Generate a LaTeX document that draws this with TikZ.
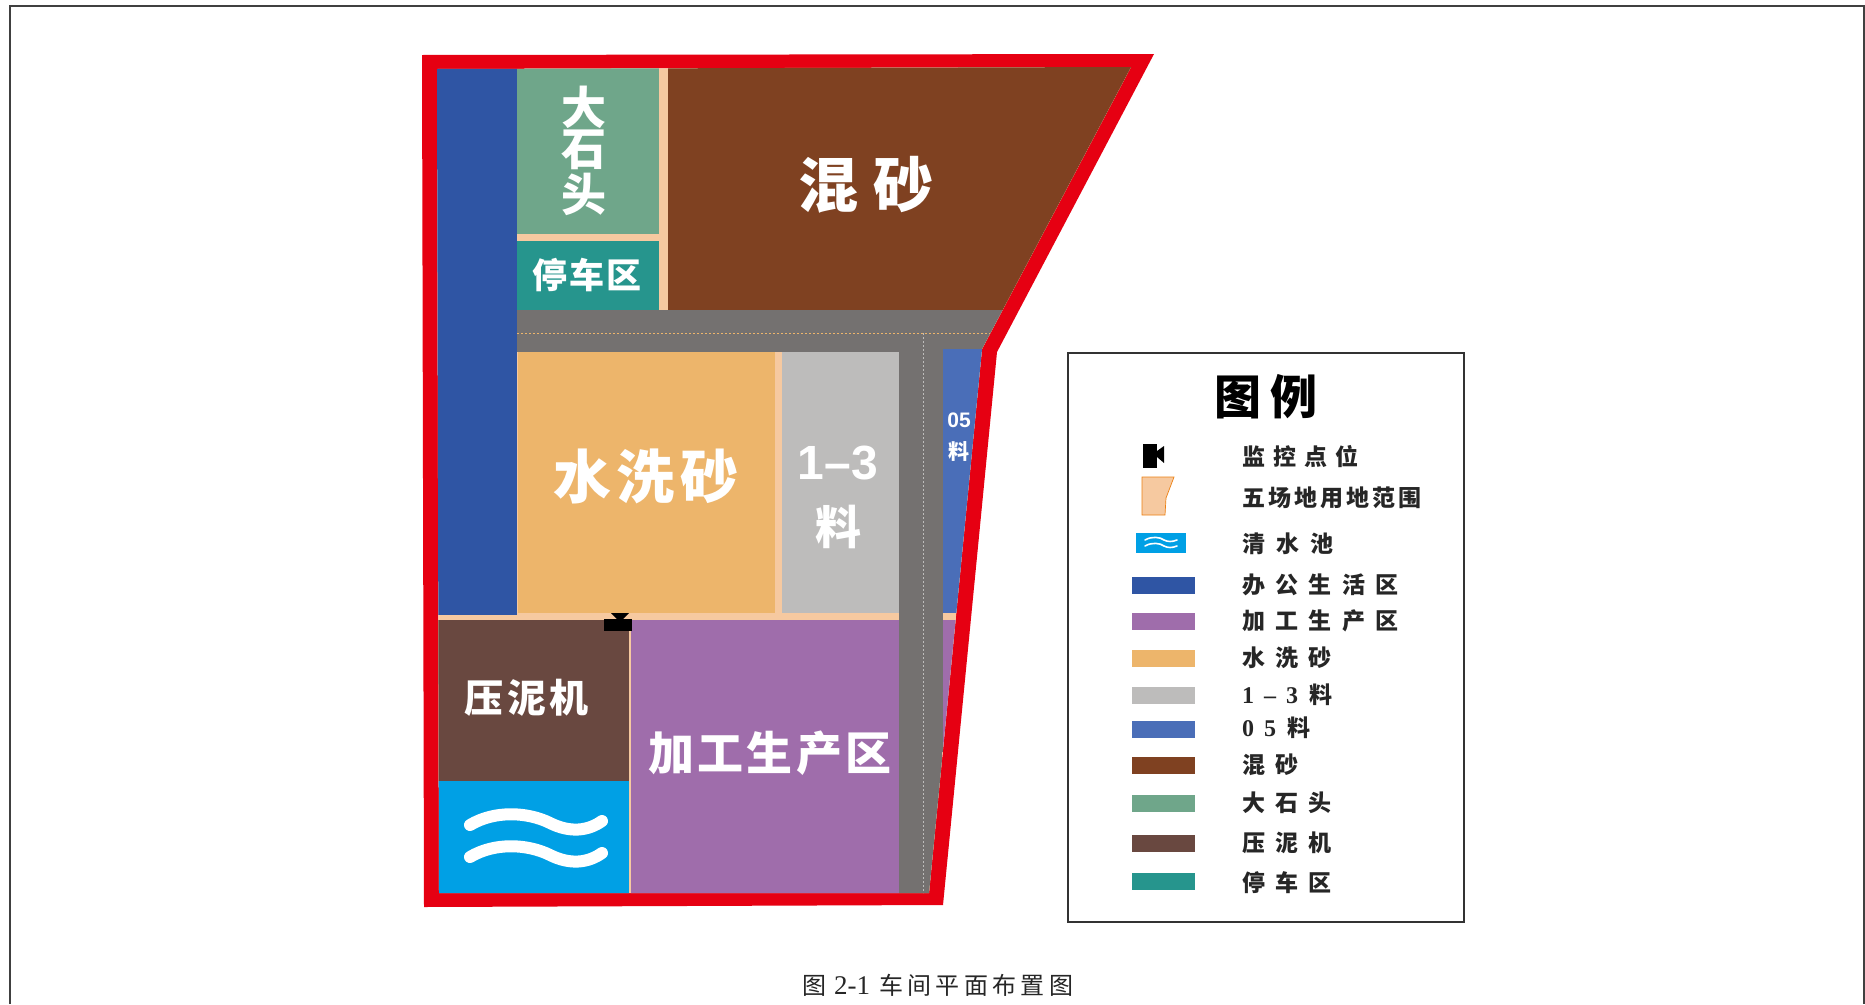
\documentclass[tikz,border=0pt]{standalone}
\usepackage{fontspec}
\setmainfont{Liberation Serif}
\newfontfamily\cjk{Noto Sans CJK SC}
\newfontfamily\latb{Liberation Sans}
\definecolor{cred}{HTML}{E60012}
\definecolor{cblue}{HTML}{2F55A4}
\definecolor{cstone}{HTML}{6FA68A}
\definecolor{cpeach}{HTML}{F6C9A0}
\definecolor{cbrown}{HTML}{7F4121}
\definecolor{cteal}{HTML}{26958D}
\definecolor{cgray}{HTML}{747170}
\definecolor{csand}{HTML}{EDB56B}
\definecolor{clight}{HTML}{BDBCBB}
\definecolor{cfive}{HTML}{4A6EB8}
\definecolor{cpurple}{HTML}{9F6DAB}
\definecolor{cmud}{HTML}{694840}
\definecolor{cwater}{HTML}{00A0E5}
\newcommand{\fs}[1]{\fontsize{#1}{#1}\selectfont}
\newcommand{\ls}[1]{\addfontfeature{LetterSpace=#1}}
\tikzset{
  lab/.style={text=white,inner sep=0pt,font=\cjk\bfseries},
  legt/.style={text=black!85,inner sep=0pt,anchor=west,font=\cjk\bfseries\fs{23}},
  swatch/.style={minimum width=63pt,minimum height=17pt,inner sep=0pt,draw=none},
  dashline/.style={draw=#1,line width=0.8pt,dash pattern=on 2pt off 2pt},
  wave/.style={draw=white,line cap=round}
}
\begin{document}
\begin{tikzpicture}[x=1pt,y=-1pt]
\useasboundingbox (0,0) rectangle (1865,1004);
\fill[white] (0,0) rectangle (1865,1004);
% page frame
\draw[black!75,line width=1.6pt] (10,1004) -- (10,6) -- (1864,6) -- (1864,1004);
% red site boundary
\fill[cred,even odd rule] (422,55) -- (1154,54) -- (997,352) -- (943,905) -- (424,907) -- cycle
  (437,69) -- (1131,67) -- (982,349) -- (929,893) -- (439,893) -- cycle;
% inside
\begin{scope}
\clip (437,69) -- (1131,67) -- (982,349) -- (929,893) -- (439,893) -- cycle;
\fill[cpeach] (430,60) rectangle (1140,900);
\fill[cblue] (430,60) rectangle (517,615);
\fill[cstone] (517,60) rectangle (659,234);
\fill[cteal] (517,241) rectangle (659,310);
\fill[cbrown] (668,60) rectangle (1140,310);
\fill[cgray] (517,310) rectangle (1140,352);
\fill[cgray] (899,352) rectangle (943,900);
\fill[cfive] (943,349) rectangle (1000,613);
\fill[csand] (518,352) rectangle (775,613);
\fill[clight] (782,352) rectangle (899,613);
\fill[cmud] (430,620) rectangle (629,781);
\fill[cwater] (430,781) rectangle (629,900);
\fill[cpurple] (631,620) rectangle (899,900);
\fill[cpurple] (943,620) rectangle (1000,900);
\draw[dashline=csand] (517,333) -- (990,333);
\draw[dashline=clight] (923,333) -- (923,893);
\end{scope}
% water waves
\draw[wave,line width=12pt] (470,825) .. controls (495,810) and (528,812) .. (550,823) .. controls (570,833) and (588,831) .. (602,821);
\draw[wave,line width=12pt] (470,857) .. controls (495,842) and (528,844) .. (550,855) .. controls (570,865) and (588,863) .. (602,853);
% camera
\fill[black] (604,619) rectangle (632,631);
\fill[black] (611,613) -- (629,613) -- (622,620) -- (618,620) -- cycle;
% labels
\node[lab,font=\cjk\bfseries\fs{45}] (stone1) at (584,107) {大};
\node[lab,font=\cjk\bfseries\fs{45}] (stone2) at (584,150) {石};
\node[lab,font=\cjk\bfseries\fs{45}] (stone3) at (584,194) {头};
\node[lab,font=\cjk\bfseries\fs{35}\ls{6}] (park) at (587,275) {停车区};
\node[lab,font=\cjk\bfseries\fs{60}\ls{24}] (mix) at (866,185) {混砂};
\node[lab,font=\cjk\bfseries\fs{58}\ls{9}] (wash) at (646,476) {水洗砂};
\node[lab,font=\latb\bfseries\fs{48}] (ot) at (838,463) {1–3};
\node[lab,font=\cjk\bfseries\fs{46}] (otl) at (838,527) {料};
\node[lab,font=\latb\bfseries\fs{21}] (ofv) at (959,420) {05};
\node[lab,font=\cjk\bfseries\fs{21}] (ofl) at (959,451) {料};
\node[lab,font=\cjk\bfseries\fs{39}\ls{9}] (press) at (527,698) {压泥机};
\node[lab,font=\cjk\bfseries\fs{46}\ls{7}] (prod) at (770,753) {加工生产区};
% legend
\node[draw=black!80,line width=2.2pt,fill=white,minimum width=396pt,minimum height=569pt,inner sep=0pt,anchor=north west] (legend) at (1067,352) {};
\node[inner sep=0pt,text=black,font=\cjk\bfseries\fs{47}\ls{20}] (ltitle) at (1266,397) {图例};
\fill[black] (1143,444) rectangle (1157,468);
\fill[black] (1157,451) -- (1164,446) -- (1164,463) -- (1157,457) -- cycle;
\filldraw[fill=cpeach,draw=orange!70!brown,line width=0.7pt] (1142,477) -- (1174,477) -- (1166,498) -- (1165,515) -- (1142,515) -- cycle;
\fill[cwater] (1136,533) rectangle (1186,553);
\draw[wave,line width=1.6pt] (1145,540) .. controls (1152,536) and (1160,537) .. (1164,540) .. controls (1168,542) and (1172,542) .. (1177,540);
\draw[wave,line width=1.6pt] (1145,546) .. controls (1152,542) and (1160,543) .. (1164,546) .. controls (1168,548) and (1172,548) .. (1177,546);
\node[legt,font=\cjk\bfseries\fs{23}\ls{35}] (t1) at (1242,457) {监控点位};
\node[legt,font=\cjk\bfseries\fs{23}\ls{13}] (t2) at (1242,498) {五场地用地范围};
\node[legt,font=\cjk\bfseries\fs{23}\ls{48}] (t3) at (1242,544) {清水池};
\node[swatch,fill=cblue] (s4) at (1163.5,585) {};
\node[legt,font=\cjk\bfseries\fs{23}\ls{45}] (t4) at (1242,585) {办公生活区};
\node[swatch,fill=cpurple] (s5) at (1163.5,621) {};
\node[legt,font=\cjk\bfseries\fs{23}\ls{45}] (t5) at (1242,621) {加工生产区};
\node[swatch,fill=csand] (s6) at (1163.5,658) {};
\node[legt,font=\cjk\bfseries\fs{23}\ls{45}] (t6) at (1242,658) {水洗砂};
\node[swatch,fill=clight] (s7) at (1163.5,695) {};
\node[legt,font=\bfseries\fs{24}] (t7) at (1242,695) {1\hspace{10pt}–\hspace{10pt}3\hspace{6pt}{\cjk\fs{23} 料}};
\node[swatch,fill=cfive] (s8) at (1163.5,729) {};
\node[legt,font=\bfseries\fs{24}] (t8) at (1242,728) {0\hspace{10pt}5\hspace{6pt}{\cjk\fs{23} 料}};
\node[swatch,fill=cbrown] (s9) at (1163.5,765) {};
\node[legt,font=\cjk\bfseries\fs{23}\ls{45}] (t9) at (1242,765) {混砂};
\node[swatch,fill=cstone] (s10) at (1163.5,803) {};
\node[legt,font=\cjk\bfseries\fs{23}\ls{45}] (t10) at (1242,803) {大石头};
\node[swatch,fill=cmud] (s11) at (1163.5,843) {};
\node[legt,font=\cjk\bfseries\fs{23}\ls{45}] (t11) at (1242,843) {压泥机};
\node[swatch,fill=cteal] (s12) at (1163.5,881) {};
\node[legt,font=\cjk\bfseries\fs{23}\ls{45}] (t12) at (1242,883) {停车区};
% caption
\node[inner sep=0pt,text=black!85,anchor=west] (cap) at (802,985) {{\cjk\fs{24}图}\hspace{8pt}\fs{27}2-1\hspace{9pt}{\cjk\fs{24}\ls{18}车间平面布置图}};
\end{tikzpicture}
\end{document}
